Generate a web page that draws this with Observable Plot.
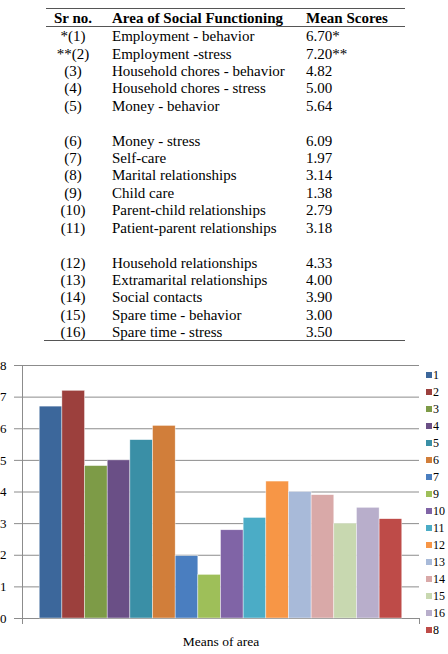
<!DOCTYPE html>
<html>
<head>
<meta charset="utf-8">
<script src="https://cdn.jsdelivr.net/npm/d3@7"></script>
<script src="https://cdn.jsdelivr.net/npm/@observablehq/plot@0.6"></script>
<style>
  html, body { margin: 0; padding: 0; background: #fff; }
  #page { position: relative; width: 448px; height: 654px; overflow: hidden; font-family: "Liberation Serif", "Times New Roman", serif; color: #000; }
  .cell { position: absolute; height: 17px; line-height: 17px; font-size: 15px; white-space: nowrap; }
  .hdr { font-weight: bold; }
  .rule { position: absolute; height: 0; border-top: 1.5px solid #555; }
  #chart { position: absolute; left: 0; top: 349px; }
  .lg-row { position: absolute; left: 426px; height: 17px; line-height: 17px; font-size: 12px; white-space: nowrap; }
  .lg-sw { display: inline-block; width: 6px; height: 6px; margin-right: 1px; vertical-align: 1px; }
</style>
</head>
<body>
<div id="page"></div>
<script>
// Table columns
const headers = ["Sr no.", "Area of Social Functioning", "Mean Scores"];
const srNo = ["*(1)", "**(2)", "(3)", "(4)", "(5)", "(6)", "(7)", "(8)", "(9)", "(10)", "(11)", "(12)", "(13)", "(14)", "(15)", "(16)"];
const areas = [
  "Employment - behavior", "Employment -stress", "Household chores - behavior",
  "Household chores - stress", "Money - behavior", "Money - stress", "Self-care",
  "Marital relationships", "Child care", "Parent-child relationships",
  "Patient-parent relationships", "Household relationships", "Extramarital relationships",
  "Social contacts", "Spare time - behavior", "Spare time - stress"
];
const meanScores = [6.70, 7.20, 4.82, 5.00, 5.64, 6.09, 1.97, 3.14, 1.38, 2.79, 3.18, 4.33, 4.00, 3.90, 3.00, 3.50];
const scoreFlags = ["*", "**", "", "", "", "", "", "", "", "", "", "", "", "", "", ""];
const blankAfter = [5, 11];

// Bar chart series: order of bars / legend entries and their colours
const barOrder = [1, 2, 3, 4, 5, 6, 7, 9, 10, 11, 12, 13, 14, 15, 16, 8];
const barColors = ["#3c679b", "#9c403d", "#7d9b47", "#6a4f86", "#3a8fa6", "#d17e3a", "#4a7ec0", "#9ebf59",
                   "#8064a6", "#4bacc6", "#f79646", "#a8bad9", "#d9a9a8", "#c8d8b0", "#b8aecb", "#be4b48"];
const yTicks = [0, 1, 2, 3, 4, 5, 6, 7, 8];
const xTitle = "Means of area";

const page = document.getElementById("page");

function addDiv(cls, text, left, top, extra) {
  const d = document.createElement("div");
  d.className = cls;
  d.textContent = text;
  d.style.left = left + "px";
  d.style.top = top + "px";
  if (extra) Object.assign(d.style, extra);
  page.appendChild(d);
  return d;
}

// ---- table ----
const rowStep = 17.41;
const firstRow = 36.7;
addDiv("cell hdr", headers[0], 43, 18.3 - 8.5, {width: "60px", textAlign: "center"});
addDiv("cell hdr", headers[1], 112, 18.3 - 8.5);
addDiv("cell hdr", headers[2], 306, 18.3 - 8.5);

let slot = 0;
srNo.forEach((s, i) => {
  const cy = firstRow + slot * rowStep;
  addDiv("cell", s, 43, cy - 8.5, {width: "60px", textAlign: "center"});
  addDiv("cell", areas[i], 112, cy - 8.5);
  addDiv("cell", meanScores[i].toFixed(2) + scoreFlags[i], 306, cy - 8.5);
  slot += blankAfter.includes(i + 1) ? 2 : 1;
});

addDiv("rule", "", 46, 7.5, {width: "359px"});
addDiv("rule", "", 46, 26, {width: "359px"});
addDiv("rule", "", 44, 340.3, {width: "361px"});

// ---- bar chart ----
const keys = barOrder.map(String);
const bars = barOrder.map(k => ({key: String(k), value: meanScores[k - 1]}));
const grid = "#8c8c8c";

const chart = Plot.plot({
  width: 448,
  height: 305,
  marginLeft: 22,
  marginRight: 29,
  marginTop: 16,
  marginBottom: 36,
  style: {fontFamily: "'Liberation Serif', 'Times New Roman', serif", fontSize: "13px", color: "#000", background: "transparent", overflow: "visible"},
  x: {domain: keys, paddingInner: 0, paddingOuter: 0.76, round: false, axis: null},
  y: {domain: [0, 8], axis: null},
  color: {domain: keys, range: barColors},
  marks: [
    Plot.ruleY(yTicks, {stroke: grid, strokeWidth: 1}),
    Plot.axisY({ticks: yTicks, tickSize: 8, tickPadding: 8, stroke: grid, strokeOpacity: 1, label: null, tickFormat: d => String(d)}),
    Plot.barY(bars, {x: "key", y: "value", fill: "key", stroke: "#fff", strokeWidth: 0.6, strokeOpacity: 0.7}),
    Plot.frame({anchor: "left", stroke: grid, insetBottom: -5}),
    Plot.frame({anchor: "right", stroke: grid, insetTop: 253, insetBottom: -5}),
    Plot.text([xTitle], {frameAnchor: "bottom", dy: 27.5, fontSize: 13.5, fill: "#000"})
  ]
});
chart.id = "chart";
page.appendChild(chart);

// ---- legend ----
const color = chart.scale("color");
barOrder.forEach((k, i) => {
  const row = document.createElement("div");
  row.className = "lg-row";
  row.style.top = (375.7 + i * 17 - 8.5) + "px";
  const sw = document.createElement("span");
  sw.className = "lg-sw";
  sw.style.background = color.apply(String(k));
  row.appendChild(sw);
  row.appendChild(document.createTextNode(String(k)));
  page.appendChild(row);
});
</script>
</body>
</html>
